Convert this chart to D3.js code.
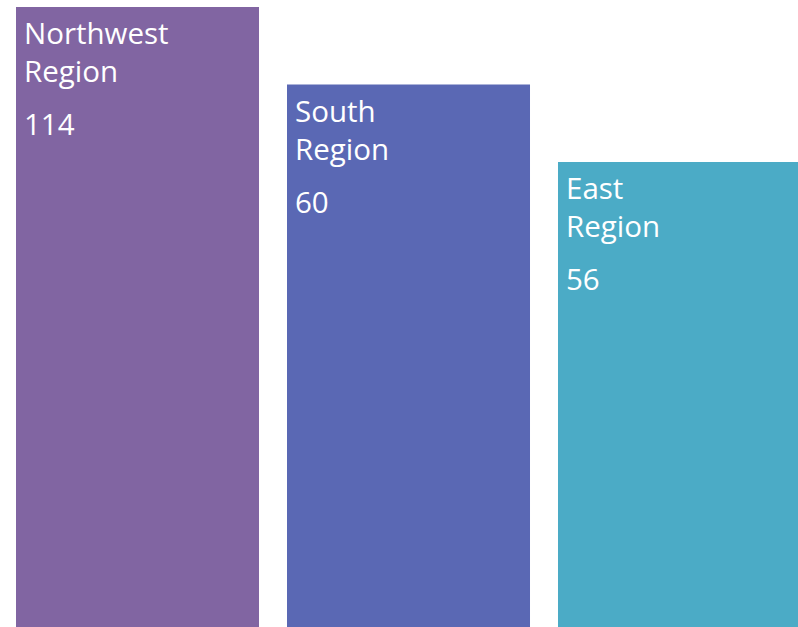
<!DOCTYPE html>
<html><head><meta charset="utf-8">
<script src="https://cdn.jsdelivr.net/npm/d3@7"></script>
<style>html,body{margin:0;padding:0;background:#fff;overflow:hidden}</style>
</head><body>
<svg id="chart" width="798" height="627"></svg>
<script>
const categories = ["Northwest Region", "South Region", "East Region"];
const values = [114, 60, 56];
const colors = ["#8165a2", "#5a68b4", "#4babc6"];

const W = 798, H = 627;
const svg = d3.select("#chart");
const x = d3.scaleBand().domain(categories).range([16, 801]).paddingInner(0.1033).paddingOuter(0);
// Bars are stepped by rank (top positions of each step)
const yTop = d3.scalePoint().domain(categories).range([7, 162]);
const color = d3.scaleOrdinal().domain(categories).range(colors);

const data = categories.map((c, i) => ({cat: c, value: values[i]}));

const g = svg.selectAll("g.bar").data(data).join("g").attr("class", "bar");
g.append("rect")
  .attr("x", d => x(d.cat))
  .attr("y", d => yTop(d.cat))
  .attr("width", x.bandwidth())
  .attr("height", d => H - yTop(d.cat))
  .attr("fill", d => color(d.cat));

const font = "'Open Sans', 'Noto Sans', sans-serif";
const fs = "29.5px";
const lbl = g.append("text")
  .attr("x", d => x(d.cat) + 8)
  .attr("y", d => yTop(d.cat) + 37)
  .attr("fill", "#fff")
  .style("font-family", font)
  .style("font-size", fs);
lbl.append("tspan").text(d => d.cat.split(" ")[0]);
lbl.append("tspan").attr("x", d => x(d.cat) + 8).attr("dy", 38).text(d => d.cat.split(" ")[1]);

g.append("text")
  .attr("x", d => x(d.cat) + 8)
  .attr("y", d => yTop(d.cat) + 128)
  .attr("fill", "#fff")
  .style("font-family", font)
  .style("font-size", fs)
  .text(d => d.value);
</script>
</body></html>
